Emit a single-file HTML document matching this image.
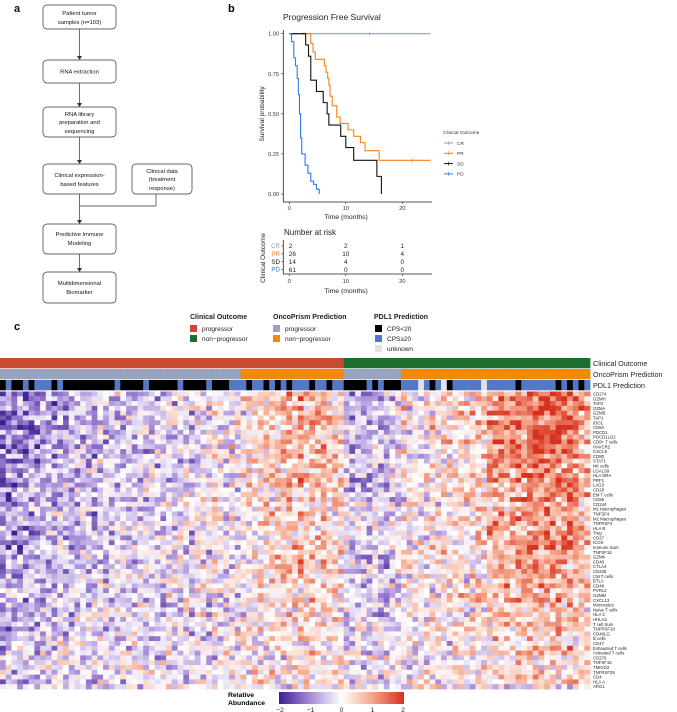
<!DOCTYPE html>
<html><head><meta charset="utf-8">
<style>
html,body{margin:0;padding:0;background:#fff;}
svg{display:block;font-family:"Liberation Sans",Arial,sans-serif;}
</style></head>
<body>
<svg id="fig" width="677" height="712" viewBox="0 0 677 712" xmlns="http://www.w3.org/2000/svg">
<g font-size="5.8" text-anchor="middle" fill="#111">
<text x="14" y="12" font-size="11" font-weight="bold" text-anchor="start">a</text>
<g fill="none" stroke="#333" stroke-width="0.7">
<rect x="43" y="5" width="73" height="24" rx="4"/>
<rect x="43" y="60" width="73" height="23" rx="4"/>
<rect x="43" y="107" width="73" height="30" rx="4"/>
<rect x="43" y="164" width="73" height="30" rx="4"/>
<rect x="132" y="164" width="60" height="30" rx="4"/>
<rect x="43" y="224" width="73" height="30" rx="4"/>
<rect x="43" y="272" width="73" height="31" rx="4"/>
<path d="M79.5 29V57M79.5 83V104M79.5 137V161M79.5 194V221M156 194V206H79.5M79.5 254V269"/>
</g>
<g fill="#333">
<path d="M77 56L82 56L79.5 60Z M77 103L82 103L79.5 107Z M77 160L82 160L79.5 164Z M77 220L82 220L79.5 224Z M77 268L82 268L79.5 272Z"/>
</g>
<text x="79.5" y="15">Patient tumor</text><text x="79.5" y="24">samples (n=103)</text>
<text x="79.5" y="73.5">RNA extraction</text>
<text x="79.5" y="116">RNA library</text><text x="79.5" y="124">preparation and</text><text x="79.5" y="133">sequencing</text>
<text x="79.5" y="177">Clinical expression-</text><text x="79.5" y="186">based features</text>
<text x="162" y="173">Clinical data</text><text x="162" y="181">(treatment</text><text x="162" y="190">response)</text>
<text x="79.5" y="236">Predictive Immune</text><text x="79.5" y="245">Modeling</text>
<text x="79.5" y="285">Multidimensional</text><text x="79.5" y="294">Biomarker</text>
</g>

<g id="km">
<text x="228" y="12" font-size="11" font-weight="bold">b</text>
<text x="283" y="20" font-size="8.5" fill="#222">Progression Free Survival</text>
<text transform="translate(264,114) rotate(-90)" font-size="6.6" text-anchor="middle" fill="#222">Survival probability</text>
<text x="346" y="219" font-size="6.8" text-anchor="middle" fill="#222">Time (months)</text>
<g id="kmAxes"></g>
<g id="kmLines"></g>
<g font-size="4.8" fill="#333">
<text x="443" y="134">Clinical Outcome</text>
<g id="kmLegend"></g>
</g>
<text x="284" y="235" font-size="8" fill="#222">Number at risk</text>
<text transform="translate(265,258) rotate(-90)" font-size="6.6" text-anchor="middle" fill="#222">Clinical Outcome</text>
<text x="346" y="293" font-size="6.8" text-anchor="middle" fill="#222">Time (months)</text>
<g id="risk"></g>
</g>

<text x="14" y="330" font-size="11" font-weight="bold">c</text>
<g font-size="6.5" fill="#222">
<text x="190" y="319" font-weight="bold" font-size="7">Clinical Outcome</text>
<rect x="190" y="325" width="7" height="7" fill="#c84a32"/><text x="202" y="331">progressor</text>
<rect x="190" y="335" width="7" height="7" fill="#1c6e2c"/><text x="202" y="341">non−progressor</text>
<text x="273" y="319" font-weight="bold" font-size="7">OncoPrism Prediction</text>
<rect x="273" y="325" width="7" height="7" fill="#98a3bd"/><text x="285" y="331">progressor</text>
<rect x="273" y="335" width="7" height="7" fill="#f18a0c"/><text x="285" y="341">non−progressor</text>
<text x="374" y="319" font-weight="bold" font-size="7">PDL1 Prediction</text>
<rect x="375" y="325" width="7" height="7" fill="#000"/><text x="387" y="331">CPS&lt;20</text>
<rect x="375" y="335" width="7" height="7" fill="#5479c4"/><text x="387" y="341">CPS≥20</text>
<rect x="375" y="345" width="7" height="7" fill="#e3e3e3"/><text x="387" y="351">unknown</text>
</g>
<g id="annot"></g>
<g id="heat"></g>
<g id="rowlabels" font-size="4.3" fill="#222"></g>
<g font-size="7.2" fill="#222">
<text x="593" y="366">Clinical Outcome</text>
<text x="593" y="377">OncoPrism Prediction</text>
<text x="593" y="388">PDL1 Prediction</text>
</g>
<g>
<defs><linearGradient id="cg" x1="0" x2="1" y1="0" y2="0">
<stop offset="0" stop-color="#3b1f8f"/><stop offset="0.25" stop-color="#a68bd8"/><stop offset="0.5" stop-color="#ffffff"/><stop offset="0.75" stop-color="#f5a58a"/><stop offset="1" stop-color="#d7301f"/></linearGradient></defs>
<text x="228" y="697" font-size="6.8" font-weight="bold">Relative</text>
<text x="228" y="705" font-size="6.8" font-weight="bold">Abundance</text>
<rect x="279" y="692" width="125" height="12" fill="url(#cg)"/>
<g font-size="6.5" text-anchor="middle" fill="#222">
<text x="280" y="712">−2</text><text x="310.5" y="712">−1</text><text x="341.5" y="712">0</text><text x="372.5" y="712">1</text><text x="403" y="712">2</text>
</g>
</g>
</svg>
<script>
const crT=[0,14.2,25]; const crS=[1,1,1];
const prT=[0,3.8,4.2,4.6,6.2,6.5,6.8,7.0,7.2,7.6,8.4,9.0,10.4,11.4,12.6,13.4,15.9,25];
const prS=[1,0.94,0.885,0.84,0.80,0.76,0.72,0.68,0.61,0.55,0.48,0.44,0.40,0.36,0.32,0.27,0.21,0.21];
const sdT=[0,2.9,3.4,3.8,4.8,6.0,6.7,7.0,9.1,10.0,11.4,15.5,16.3];
const sdS=[1,0.93,0.86,0.71,0.64,0.57,0.50,0.43,0.36,0.29,0.21,0.11,0];
const pdT=[0,0.4,0.8,1.1,1.4,1.6,1.8,2.0,2.2,2.8,3.3,3.8,4.3,4.8,5.3];
const pdS=[1,0.95,0.85,0.80,0.72,0.62,0.50,0.35,0.25,0.18,0.13,0.08,0.06,0.03,0];
const groups=["CR","PR","SD","PD"];
const xTicks=[0,10,20];
const yTicks=[0,0.25,0.5,0.75,1];
const riskCR=[2,2,1]; const riskPR=[26,10,4]; const riskSD=[14,4,0]; const riskPD=[61,0,0];
const NS="http://www.w3.org/2000/svg";
const kx=t=>289.3+5.65*t, ky=s=>194-160.3*s;
function mk(tag,attrs,parent){const e=document.createElementNS(NS,tag);for(const k in attrs)e.setAttribute(k,attrs[k]);parent.appendChild(e);return e;}
const axes=document.getElementById('kmAxes');
let ax=mk('path',{d:'M283.3 30V202H432',stroke:'#222','stroke-width':'0.8',fill:'none'},axes);


yTicks.forEach(v=>{mk('line',{x1:281,x2:283.3,y1:ky(v),y2:ky(v),stroke:'#222','stroke-width':0.6},axes);
 const t=mk('text',{x:279,y:ky(v)+2,'font-size':5.6,'text-anchor':'end',fill:'#333'},axes);t.textContent=v.toFixed(2);
 
 });
xTicks.forEach(v=>{mk('line',{x1:kx(v),x2:kx(v),y1:202,y2:204,stroke:'#222','stroke-width':0.6},axes);
 const t=mk('text',{x:kx(v),y:210,'font-size':5.8,'text-anchor':'middle',fill:'#333'},axes);t.textContent=v;
 
 });
const cols={CR:'#8d9dc4',PR:'#f5821f',SD:'#111',PD:'#2c7bf2'};
const series={CR:[crT,crS],PR:[prT,prS],SD:[sdT,sdS],PD:[pdT,pdS]};
const cens={CR:[14.2],PR:[2.6,21.8],SD:[],PD:[]};
const lines=document.getElementById('kmLines');
groups.forEach(g=>{const [T,S]=series[g];let d='M'+kx(T[0])+' '+ky(S[0]);
 for(let i=1;i<T.length;i++){d+='H'+kx(T[i])+'V'+ky(S[i]);}
 const p=mk('path',{d:d,stroke:cols[g],'stroke-width':1.1,fill:'none'},lines);
 
 
 cens[g].forEach(t=>{let s=1;for(let i=0;i<T.length;i++)if(T[i]<=t)s=S[i];
  mk('line',{x1:kx(t),x2:kx(t),y1:ky(s)-2,y2:ky(s)+2,stroke:cols[g],'stroke-width':0.6},lines);});
});
const leg=document.getElementById('kmLegend');
groups.forEach((g,i)=>{const y=143+10.3*i;
 mk('line',{x1:444,x2:453,y1:y,y2:y,stroke:cols[g],'stroke-width':1},leg);
 mk('line',{x1:448.5,x2:448.5,y1:y-2,y2:y+2,stroke:cols[g],'stroke-width':0.6},leg);
 const t=mk('text',{x:457,y:y+1.8},leg);t.textContent=g;
 
 });
const risk=document.getElementById('risk');
mk('path',{d:'M283.3 240V274H432',stroke:'#222','stroke-width':0.8,fill:'none'},risk);
const riskRows={CR:riskCR,PR:riskPR,SD:riskSD,PD:riskPD};
groups.forEach((g,i)=>{const y=246+7.9*i;
 const l=mk('text',{x:280,y:y+2,'font-size':6.2,'text-anchor':'end',fill:cols[g]==='#111'?'#222':cols[g]},risk);l.textContent=g;
 
 
 mk('line',{x1:281,x2:283.3,y1:y,y2:y,stroke:'#222','stroke-width':0.5},risk);
 riskRows[g].forEach((v,j)=>{const t=mk('text',{x:kx(xTicks[j])+(j===0?-0.5:0),y:y+2.2,'font-size':6.4,'text-anchor':j===0?'start':'middle',fill:'#222'},risk);t.textContent=v;
  
  });
});
xTicks.forEach(v=>{mk('line',{x1:kx(v),x2:kx(v),y1:274,y2:276,stroke:'#222','stroke-width':0.6},risk);
 const t=mk('text',{x:kx(v),y:283,'font-size':5.8,'text-anchor':'middle',fill:'#333'},risk);t.textContent=v;});

const clinical="PPPPPPPPPPPPPPPPPPPPPPPPPPPPPPPPPPPPPPPPPPPPPPPPPPPPPPPPPPPPNNNNNNNNNNNNNNNNNNNNNNNNNNNNNNNNNNNNNNNNNNN";
const oncoprism="PPPPPPPPPPPPPPPPPPPPPPPPPPPPPPPPPPPPPPPPPPNNNNNNNNNNNNNNNNNNPPPPPPPPPPNNNNNNNNNNNNNNNNNNNNNNNNNNNNNNNNN";
const pdl1="KBKKBKBBBKBKKKKKKKKKBKKKKBKKKKKBKKKKBKKKBBBKBBKBKBKBBBKBBKBBKKKKBKBKKKBBBUBKBUKBBBBBUBBBBBKBBBBBBKBKBKB";
const genes=["CD274","GZMH","TAP2","GZMA","GZMB","TAP1","IDO1","CD8A","PDCD1","PDCD1LG2","CD8+ T cells","HAVCR2","CXCL9","CD80","STAT1","NK cells","LGALS9","HLA DRA","PRF1","LAG3","CD28","EM T cells","CD86","CD244","M1 Macrophages","TNFSF4","M2 Macrophages","TNFRSF4","HLA B","Treg","CD27","ICOS","Immune Sum","TNFSF18","GZMK","CD40","CTLA4","CD226","CM T cells","BTLA","CD48","PVRL2","GZMM","CXCL13","Monocytes","Naive T cells","HLA C","HHLA2","T cell Sum","TNFRSF18","CD40LG","B cells","CD47","Exhausted T cells","Activated T cells","CD276","TNFSF15","TMIGD2","TNFRSF25","CD4","HLA A","ARG1"];
const sampleLevel=[-0.9,-0.8,-0.9,-0.7,-0.8,-0.6,-0.7,-0.6,-0.5,-0.6,-0.5,-0.4,-0.5,-0.4,-0.3,-0.4,-0.5,-0.3,-0.4,-0.3,-0.2,-0.3,-0.4,-0.3,-0.2,-0.3,-0.2,-0.3,-0.2,-0.1,-0.3,-0.2,-0.1,-0.2,0.0,-0.1,-0.2,0.1,0.0,-0.1,0.1,0.0,0.2,0.3,0.2,0.3,0.4,0.5,0.6,0.7,0.8,0.6,0.9,0.7,0.6,0.5,0.7,0.5,0.4,0.6,-0.3,-0.4,-0.3,-0.5,-0.4,-0.2,-0.3,-0.4,-0.2,-0.1,0.2,0.1,0.3,0.0,0.2,0.3,0.1,0.4,0.2,0.3,0.5,0.3,0.4,0.6,0.5,0.8,0.9,1.1,0.8,1.0,1.2,1.1,1.3,1.4,1.2,1.3,1.4,1.2,1.1,1.3,1.0,0.8,0.7];
const featureWeight=[1.2,1.3,1.2,1.3,1.3,1.2,1.2,1.3,1.2,1.1,1.3,1.2,1.2,1.1,1.1,1.1,1.0,1.1,1.1,1.1,1.0,1.0,1.0,1.0,1.0,0.9,1.0,0.9,0.9,1.0,1.0,1.0,1.1,0.8,0.9,0.9,0.9,0.9,0.8,0.8,0.9,0.5,0.8,0.8,0.6,0.6,0.6,0.4,0.7,0.6,0.6,0.6,0.3,0.6,0.5,0.2,0.3,0.4,0.4,0.4,0.4,0.2];
const annot=document.getElementById('annot'), heat=document.getElementById('heat');
const N=103, x0=0, x1=590, cw=(x1-x0)/N, hy0=391.5, hy1=689, rh=(hy1-hy0)/genes.length;
const cx=i=>x0+i*cw;
const clinCol={P:'#c84a32',N:'#1c6e2c'}, oncoCol={P:'#98a3bd',N:'#f18a0c'}, pdCol={K:'#000',B:'#5479c4',U:'#e3e3e3'};
for(let i=0;i<N;i++){
 let r=mk('rect',{x:cx(i),y:358,width:cw+0.4,height:10.3,fill:clinCol[clinical[i]]},annot);
 
 
 r=mk('rect',{x:cx(i),y:369,width:cw+0.4,height:10.3,fill:oncoCol[oncoprism[i]]},annot);
 
 
 r=mk('rect',{x:cx(i),y:380,width:cw+0.4,height:10.3,fill:pdCol[pdl1[i]]},annot);
 
 
}
function hsh(a,b){let h=(a*374761393+b*668265263)|0;h=(h^(h>>>13))*1274126177|0;h=h^(h>>>16);return ((h>>>0)%10000)/10000;}
function lerp(a,b,t){return a.map((v,k)=>Math.round(v+(b[k]-v)*t));}
const stops=[[59,31,143],[166,139,216],[255,255,255],[245,165,138],[215,48,31]];
function colr(v){v=Math.max(-2,Math.min(2,v));const p=(v+2);const k=Math.min(3,Math.floor(p));const c=lerp(stops[k],stops[k+1],p-k);return 'rgb('+c.join(',')+')';}
for(let g=0;g<genes.length;g++){
 for(let i=0;i<N;i++){
  const noise=(hsh(g+1,i+7)+hsh(i+3,g+11)-1)*2.4;
  const v=featureWeight[g]*sampleLevel[i]*1.0+noise*0.55-0.1;
  const r=mk('rect',{x:cx(i),y:hy0+g*rh,width:cw+0.4,height:rh+0.4,fill:colr(v)},heat);
  
  
 }
 const t=mk('text',{x:593,y:hy0+g*rh+rh-0.8},document.getElementById('rowlabels'));
 t.textContent=genes[g];
 
 
}
</script>
</body></html>
